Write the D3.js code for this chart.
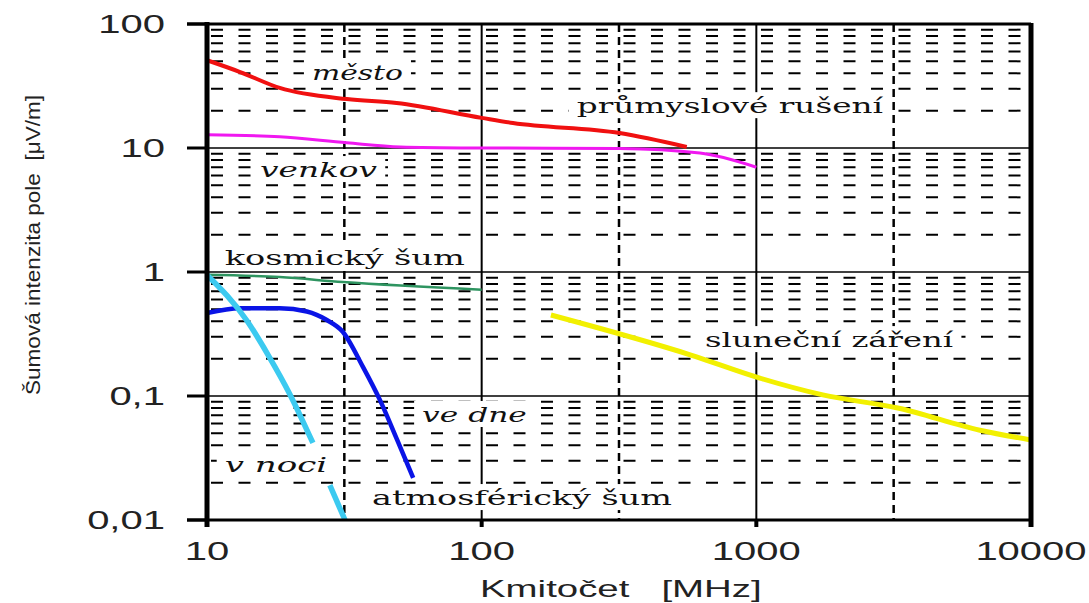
<!DOCTYPE html>
<html>
<head>
<meta charset="utf-8">
<script src="https://cdnjs.cloudflare.com/ajax/libs/d3/7.8.5/d3.min.js"></script>
<style>
  body { margin: 0; background: #fff; }
</style>
</head>
<body>
<script>
// [frequency MHz, field uV/m]
var mesto = [[10, 51], [13.2, 41], [18.4, 30.5], [32.3, 24.8], [49, 23.1], [100, 17.5], [130, 15.9], [318, 13.2], [558, 10.2]];
var venkov = [[10, 12.8], [18.4, 12.3], [32.3, 11], [50.5, 10.2], [100, 10], [318, 9.9], [623, 9.1], [1000, 7.0]];
var kosmicky = [[10, 0.95], [18.4, 0.91], [31.2, 0.83], [100, 0.72]];
var veDne = [[10, 0.467], [13.2, 0.51], [18.4, 0.51], [23.1, 0.48], [27.3, 0.41], [31.2, 0.33], [37, 0.171], [42.6, 0.093], [49.2, 0.0445], [56.3, 0.0219]];
var vNoci1 = [[10, 0.946], [14, 0.403], [16.7, 0.214], [20, 0.104], [24.3, 0.0418]];
var vNoci2 = [[28, 0.0191], [31.8, 0.01]];
var slunce = [[178.7, 0.45], [578, 0.214], [1023, 0.14], [1746, 0.102], [3273, 0.080], [6514, 0.053], [10000, 0.0442]];

var xTicks = [10, 100, 1000, 10000];
var xTickLabels = ["10", "100", "1000", "10000"];
var yTicks = [0.01, 0.1, 1, 10, 100];
var yTickLabels = ["0,01", "0,1", "1", "10", "100"];

// in-plot captions: text, left freq, right freq, baseline value
var labelTexts = ["město", "průmyslové rušení", "venkov", "kosmický šum", "sluneční záření", "ve dne", "v noci", "atmosférický šum"];
var labelF0 = [24.1, 222, 15.6, 11.6, 650, 60.7, 11.6, 39.9];
var labelF1 = [51.7, 2891, 41.6, 86.9, 5200, 146, 27.4, 493];
var labelV = [35.3, 19.1, 5.83, 1.14, 0.248, 0.0617, 0.0244, 0.0132];
var labelItalic = [true, false, true, false, false, true, true, false];

var W = 1089, H = 603;
var plotL = 207, plotR = 1031, plotT = 24, plotB = 520;

var x = d3.scaleLog().domain([10, 10000]).range([plotL, plotR]);
var y = d3.scaleLog().domain([0.01, 100]).range([plotB, plotT]);

var svg = d3.select("body").append("svg")
  .attr("width", W)
  .attr("height", H)
  .style("display", "block");

svg.append("rect").attr("width", W).attr("height", H).style("fill", "#fff");

// stretch text horizontally like the scanned original
function stretch(sel, k) {
  sel.each(function() {
    var w = this.getComputedTextLength();
    d3.select(this).attr("textLength", w * k).attr("lengthAdjust", "spacingAndGlyphs");
  });
}

//======//
// Grid //
//======//
var minors = [];
[0.01, 0.1, 1, 10].forEach(function(d) {
  for (var m = 2; m <= 9; m++) minors.push(m * d);
});

svg.selectAll(".minor")
  .data(minors)
  .enter().append("line")
  .attr("x1", plotL).attr("x2", plotR)
  .attr("y1", function(d) { return y(d); })
  .attr("y2", function(d) { return y(d); })
  .style("stroke", "#000")
  .style("stroke-width", 2)
  .style("stroke-dasharray", "12,15.5")
  .style("stroke-dashoffset", 23.5);

svg.selectAll(".decade")
  .data([0.1, 1, 10])
  .enter().append("line")
  .attr("x1", plotL).attr("x2", plotR)
  .attr("y1", function(d) { return y(d); })
  .attr("y2", function(d) { return y(d); })
  .style("stroke", "#000")
  .style("stroke-width", 1.5);

svg.selectAll(".vhalf")
  .data([Math.sqrt(1000), Math.sqrt(100000), Math.sqrt(10000000)])
  .enter().append("line")
  .attr("x1", function(d) { return x(d); })
  .attr("x2", function(d) { return x(d); })
  .attr("y1", plotT).attr("y2", plotB)
  .style("stroke", "#000")
  .style("stroke-width", 2.5)
  .style("stroke-dasharray", "8,5");

svg.selectAll(".vdec")
  .data([100, 1000])
  .enter().append("line")
  .attr("x1", function(d) { return x(d); })
  .attr("x2", function(d) { return x(d); })
  .attr("y1", plotT).attr("y2", plotB)
  .style("stroke", "#000")
  .style("stroke-width", 2);

//=====================//
// Caption backgrounds //
//=====================//
var labels = labelTexts.map(function(t, i) {
  return { text: t, f0: labelF0[i], f1: labelF1[i], v: labelV[i], italic: labelItalic[i] };
});

var labelG = svg.append("g");
var labelText = labelG.selectAll("text")
  .data(labels)
  .enter().append("text")
  .attr("x", function(d) { return x(d.f0); })
  .attr("y", function(d) { return y(d.v); })
  .attr("textLength", function(d) { return x(d.f1) - x(d.f0); })
  .attr("lengthAdjust", "spacingAndGlyphs")
  .style("font-family", "'DejaVu Serif', serif")
  .style("font-size", "21px")
  .style("font-style", function(d) { return d.italic ? "italic" : "normal"; })
  .style("fill", "#111")
  .text(function(d) { return d.text; });

var boxG = svg.append("g");
labelText.each(function() {
  var b = this.getBBox();
  boxG.append("rect")
    .attr("x", b.x - 8).attr("y", b.y - 2)
    .attr("width", b.width + 16).attr("height", b.height + 2)
    .style("fill", "#fff");
});

//========//
// Curves //
//========//
var line = d3.line()
  .x(function(d) { return x(d[0]); })
  .y(function(d) { return y(d[1]); })
  .curve(d3.curveMonotoneX);

var series = [
  { data: mesto, color: "#f01010", width: 4 },
  { data: venkov, color: "#f018f0", width: 3 },
  { data: kosmicky, color: "#2e9460", width: 2.5 },
  { data: veDne, color: "#0a14e6", width: 4.5 },
  { data: vNoci1, color: "#3ccaf0", width: 5.5 },
  { data: vNoci2, color: "#3ccaf0", width: 5.5 },
  { data: slunce, color: "#f2f000", width: 5 }
];

svg.selectAll(".curve")
  .data(series)
  .enter().append("path")
  .attr("class", "curve")
  .attr("d", function(d) { return line(d.data); })
  .style("fill", "none")
  .style("stroke", function(d) { return d.color; })
  .style("stroke-width", function(d) { return d.width; })
  .style("stroke-linejoin", "round");

labelG.raise();

//======//
// Axes //
//======//
// frame
svg.append("line").attr("x1", 187).attr("x2", plotR).attr("y1", plotT).attr("y2", plotT)
  .style("stroke", "#000").style("stroke-width", 3);
svg.append("line").attr("x1", 187).attr("x2", plotR).attr("y1", plotB).attr("y2", plotB)
  .style("stroke", "#000").style("stroke-width", 3);
svg.append("line").attr("x1", plotL).attr("x2", plotL).attr("y1", plotT - 2).attr("y2", plotB + 7)
  .style("stroke", "#000").style("stroke-width", 5);
svg.append("line").attr("x1", plotR).attr("x2", plotR).attr("y1", plotT - 1).attr("y2", plotB + 7)
  .style("stroke", "#000").style("stroke-width", 5);

// y ticks
svg.selectAll(".ytick")
  .data(yTicks)
  .enter().append("line")
  .attr("x1", 187).attr("x2", plotL)
  .attr("y1", function(d) { return y(d); })
  .attr("y2", function(d) { return y(d); })
  .style("stroke", "#000")
  .style("stroke-width", 3);

// x ticks
svg.selectAll(".xtick")
  .data(xTicks)
  .enter().append("line")
  .attr("x1", function(d) { return x(d); })
  .attr("x2", function(d) { return x(d); })
  .attr("y1", plotB).attr("y2", plotB + 7)
  .style("stroke", "#000")
  .style("stroke-width", 4);

var tickFont = "'Liberation Sans', Arial, sans-serif";

svg.selectAll(".ylab")
  .data(yTicks)
  .enter().append("text")
  .attr("x", 165)
  .attr("y", function(d) { return y(d) + 9; })
  .attr("text-anchor", "end")
  .style("font-family", tickFont)
  .style("font-size", "25px")
  .style("fill", "#222")
  .text(function(d, i) { return yTickLabels[i]; })
  .call(stretch, 1.6);

svg.selectAll(".xlab")
  .data(xTicks)
  .enter().append("text")
  .attr("x", function(d) { return x(d); })
  .attr("y", 560)
  .attr("text-anchor", "middle")
  .style("font-family", tickFont)
  .style("font-size", "25px")
  .style("fill", "#222")
  .text(function(d, i) { return xTickLabels[i]; })
  .call(stretch, 1.6);

// axis titles
svg.append("text")
  .attr("x", 480)
  .attr("y", 597)
  .style("font-family", tickFont)
  .style("font-size", "24px")
  .style("fill", "#222")
  .style("white-space", "pre")
  .attr("xml:space", "preserve")
  .text("Kmitočet   [MHz]")
  .call(stretch, 1.6);

svg.append("text")
  .attr("transform", "translate(40,395) rotate(-90)")
  .attr("x", 0)
  .attr("y", 0)
  .attr("textLength", 300)
  .attr("lengthAdjust", "spacingAndGlyphs")
  .style("font-family", tickFont)
  .style("font-size", "20px")
  .style("fill", "#222")
  .style("white-space", "pre")
  .attr("xml:space", "preserve")
  .text("Šumová intenzita pole  [μV/m]");
</script>
</body>
</html>
